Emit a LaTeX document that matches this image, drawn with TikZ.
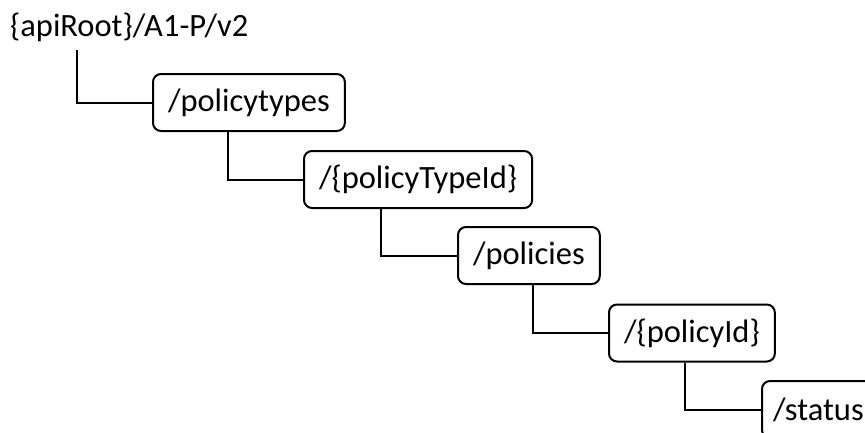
\documentclass[tikz,border=0pt]{standalone}
\usepackage{fontspec}
\setmainfont{Carlito}
\begin{document}
\begin{tikzpicture}[x=1pt,y=-1pt,
  pathbox/.style={draw, line width=2pt, rounded corners=8pt, minimum height=57pt,
    inner xsep=15pt, inner ysep=0pt, anchor=west, font=\fontsize{32.5}{38}\selectfont},
  link/.style={line width=2pt}]
\useasboundingbox (0,0) rectangle (865,432);
\clip (0,0) rectangle (865,432);
\node[anchor=base west, inner sep=0pt, font=\fontsize{32.5}{38}\selectfont] (root) at (10,36) {\{apiRoot\}/A1-P/v2};
\coordinate (r0) at (77,50);
\node[pathbox] (b1) at (152,102.5) {/policytypes};
\node[pathbox] (b2) at (303,179.5) {/\{policyTypeId\}};
\node[pathbox] (b3) at (457,255.5) {/policies};
\node[pathbox] (b4) at (608,333) {/\{policyId\}};
\node[pathbox, inner xsep=11pt, text width=130pt, align=left] (b5) at (761,409.5) {/status};
\draw[link] (r0) |- (b1.west);
\draw[link] ([xshift=76pt]b1.south west) |- (b2.west);
\draw[link] ([xshift=78pt]b2.south west) |- (b3.west);
\draw[link] ([xshift=76pt]b3.south west) |- (b4.west);
\draw[link] ([xshift=77pt]b4.south west) |- (b5.west);
\end{tikzpicture}
\end{document}
